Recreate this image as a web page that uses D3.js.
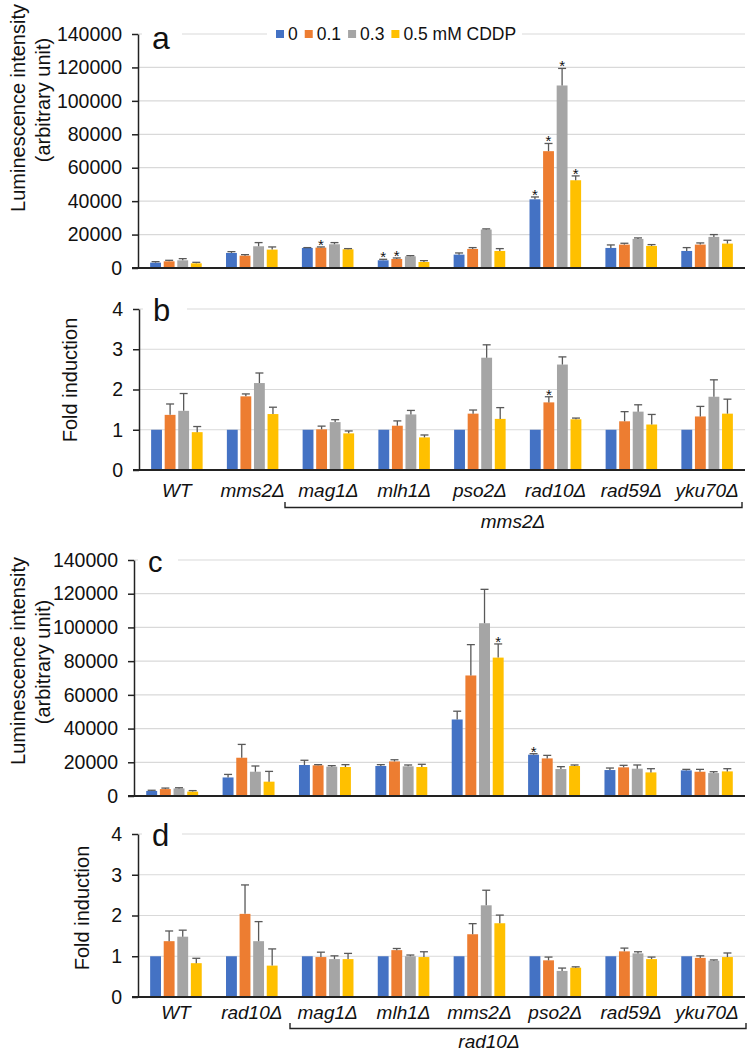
<!DOCTYPE html>
<html>
<head>
  <title>Luminescence and fold induction</title>
  <script src="https://d3js.org/d3.v7.min.js"></script>
  <style>
    body { margin: 0; background: #fff; }
    text { font-family: "Liberation Sans", Arial, sans-serif; }
  </style>
</head>
<body>
  <div id="chart"></div>

  <script>
    // categories
    var strainsTop = ["WT", "mms2\u0394", "mag1\u0394", "mlh1\u0394", "pso2\u0394", "rad10\u0394", "rad59\u0394", "yku70\u0394"];
    var strainsBottom = ["WT", "rad10\u0394", "mag1\u0394", "mlh1\u0394", "mms2\u0394", "pso2\u0394", "rad59\u0394", "yku70\u0394"];
    var doses = ["0", "0.1", "0.3", "0.5 mM CDDP"];
    var colors = ["#4472C4", "#ED7D31", "#A5A5A5", "#FFC000"];

    // panel a: luminescence, mms2 background
    var lumA = [
      [3200, 4000, 4600, 2800], [9000, 7400, 13000, 11000], [12000, 12200, 14200, 11200],
      [4600, 5400, 7000, 3600], [8000, 11400, 23000, 10200], [41100, 69900, 109200, 52500],
      [12000, 14000, 17400, 13200], [10200, 14000, 18600, 14600]
    ];
    var errA = [
      [600, 600, 1000, 600], [800, 600, 2200, 1600], [200, 400, 1000, 400],
      [600, 600, 400, 800], [1000, 800, 400, 1400], [1400, 4600, 10200, 2600],
      [1800, 800, 600, 800], [2000, 1000, 1400, 2000]
    ];
    var starA = [
      [0, 0, 0, 0], [0, 0, 0, 0], [0, 1, 0, 0], [1, 1, 0, 0],
      [0, 0, 0, 0], [1, 1, 1, 1], [0, 0, 0, 0], [0, 0, 0, 0]
    ];

    // panel b: fold induction, mms2 background
    var foldB = [
      [1, 1.37, 1.47, 0.94], [1, 1.83, 2.16, 1.39], [1, 1.01, 1.19, 0.91], [1, 1.10, 1.38, 0.81],
      [1, 1.40, 2.79, 1.27], [1, 1.68, 2.62, 1.26], [1, 1.21, 1.45, 1.13], [1, 1.33, 1.82, 1.40]
    ];
    var errB = [
      [0, 0.27, 0.43, 0.14], [0, 0.06, 0.25, 0.17], [0, 0.08, 0.06, 0.06], [0, 0.12, 0.10, 0.06],
      [0, 0.09, 0.32, 0.28], [0, 0.14, 0.19, 0.03], [0, 0.24, 0.17, 0.25], [0, 0.25, 0.42, 0.36]
    ];
    var starB = [
      [0, 0, 0, 0], [0, 0, 0, 0], [0, 0, 0, 0], [0, 0, 0, 0],
      [0, 0, 0, 0], [0, 1, 0, 0], [0, 0, 0, 0], [0, 0, 0, 0]
    ];

    // panel c: luminescence, rad10 background
    var lumC = [
      [3000, 4100, 4500, 2600], [11000, 22700, 14400, 8500], [18400, 18200, 17400, 17200],
      [17800, 20500, 17600, 17200], [45400, 71500, 102500, 82100], [24500, 22300, 16000, 17800],
      [15400, 17000, 16200, 14000], [15200, 14400, 13600, 14600]
    ];
    var errC = [
      [400, 600, 400, 600], [1800, 7900, 3400, 6100], [2800, 400, 600, 1400],
      [800, 1000, 800, 1600], [4900, 18300, 20100, 8100], [600, 1800, 1400, 600],
      [1200, 1200, 2200, 2200], [600, 1400, 800, 1600]
    ];
    var starC = [
      [0, 0, 0, 0], [0, 0, 0, 0], [0, 0, 0, 0], [0, 0, 0, 0],
      [0, 0, 0, 1], [1, 0, 0, 0], [0, 0, 0, 0], [0, 0, 0, 0]
    ];

    // panel d: fold induction, rad10 background
    var foldD = [
      [1, 1.37, 1.48, 0.83], [1, 2.04, 1.37, 0.77], [1, 0.98, 0.93, 0.93], [1, 1.15, 1.00, 0.98],
      [1, 1.54, 2.25, 1.81], [1, 0.90, 0.64, 0.72], [1, 1.12, 1.07, 0.93], [1, 0.96, 0.89, 0.98]
    ];
    var errD = [
      [0, 0.25, 0.16, 0.12], [0, 0.71, 0.48, 0.41], [0, 0.12, 0.08, 0.14], [0, 0.04, 0.03, 0.13],
      [0, 0.26, 0.37, 0.20], [0, 0.08, 0.07, 0.02], [0, 0.08, 0.04, 0.05], [0, 0.05, 0.02, 0.10]
    ];

    var lumTicks = [0, 20000, 40000, 60000, 80000, 100000, 120000, 140000];
    var foldTicks = [0, 1, 2, 3, 4];

    var svg = d3.select("#chart")
      .append("svg")
      .attr("width", 749)
      .attr("height", 1052);

    svg.append("rect").attr("width", 749).attr("height", 1052).attr("fill", "#fff");

    function drawPanel(p) {
      var g = svg.append("g");

      var y = d3.scaleLinear().domain([0, p.max]).range([p.bottom, p.top]);
      var x0 = d3.scaleBand().domain(d3.range(p.values.length))
        .range([p.left, 745]).paddingInner(0.32).paddingOuter(0.16);
      var x1 = d3.scaleBand().domain(d3.range(doses.length))
        .range([0, x0.bandwidth()]).paddingInner(0.2);

      // gridlines
      g.selectAll(".grid")
        .data(p.ticks.filter(function(t) { return t > 0; }))
        .enter().append("line")
        .attr("x1", p.left).attr("x2", 745)
        .attr("y1", function(d) { return y(d); })
        .attr("y2", function(d) { return y(d); })
        .attr("stroke", "#d9d9d9").attr("stroke-width", 1.2);

      // bars
      var groups = g.selectAll(".grp")
        .data(p.values)
        .enter().append("g")
        .attr("transform", function(d, i) { return "translate(" + x0(i) + ",0)"; });

      groups.each(function(vals, i) {
        var gg = d3.select(this);
        vals.forEach(function(v, j) {
          var bx = x1(j), bw = x1.bandwidth();
          gg.append("rect")
            .attr("x", bx).attr("y", y(v))
            .attr("width", bw).attr("height", y(0) - y(v))
            .attr("fill", colors[j]);
          var e = p.errors[i][j];
          var top = y(v + e);
          if (e > 0) {
            gg.append("line")
              .attr("x1", bx + bw / 2).attr("x2", bx + bw / 2)
              .attr("y1", y(v)).attr("y2", top)
              .attr("stroke", "#595959").attr("stroke-width", 1.3);
            gg.append("line")
              .attr("x1", bx + bw / 2 - 4).attr("x2", bx + bw / 2 + 4)
              .attr("y1", top).attr("y2", top)
              .attr("stroke", "#595959").attr("stroke-width", 1.3);
          }
          if (p.stars && p.stars[i][j]) {
            gg.append("text")
              .attr("x", bx + bw / 2).attr("y", top + 3)
              .attr("text-anchor", "middle")
              .attr("font-size", 15)
              .attr("fill", "#111")
              .text("*");
          }
        });
      });

      // y axis
      var axis = g.append("g")
        .attr("transform", "translate(" + p.left + ",0)")
        .call(d3.axisLeft(y).tickValues(p.ticks).tickFormat(d3.format("d"))
          .tickSize(6).tickPadding(10).tickSizeOuter(0));
      axis.select(".domain").attr("stroke", "#222").attr("stroke-width", 1.5);
      axis.selectAll(".tick line").attr("stroke", "#222").attr("stroke-width", 1.5);
      axis.selectAll(".tick text").attr("font-size", 19.5).attr("fill", "#111")
        .style("font-family", "'Liberation Sans', Arial, sans-serif");

      // x baseline
      g.append("line")
        .attr("x1", p.left - 6).attr("x2", 745)
        .attr("y1", y(0)).attr("y2", y(0))
        .attr("stroke", "#222").attr("stroke-width", 1.8);

      // panel letter on white patch
      g.append("rect")
        .attr("x", p.left + 4).attr("y", p.top - 18)
        .attr("width", p.letterPatch).attr("height", 32)
        .attr("fill", "#fff");
      g.append("text")
        .attr("x", p.left + 14).attr("y", p.top + p.letterDy)
        .attr("font-size", p.letterSize)
        .attr("fill", "#111")
        .text(p.letter);

      // y title
      p.titles.forEach(function(t) {
        g.append("text")
          .attr("transform", "translate(" + t.x + "," + t.y + ") rotate(-90)")
          .attr("text-anchor", "middle")
          .attr("font-size", 20)
          .attr("fill", "#111")
          .text(t.text);
      });

      // x labels
      if (p.labels) {
        g.selectAll(".xl")
          .data(p.labels)
          .enter().append("text")
          .attr("x", function(d, i) { return x0(i) + x0.bandwidth() / 2; })
          .attr("y", p.labelY)
          .attr("text-anchor", "middle")
          .attr("font-size", 19)
          .attr("font-style", "italic")
          .attr("fill", "#111")
          .text(function(d) { return d; });
      }
      return {x0: x0, y: y};
    }

    // panel a
    drawPanel({
      values: lumA, errors: errA, stars: starA, max: 140000, ticks: lumTicks,
      left: 138, top: 34, bottom: 268,
      letter: "a", letterSize: 32, letterDy: 15, letterPatch: 40,
      titles: [{x: 25, y: 108, text: "Luminescence intensity"}, {x: 50, y: 100, text: "(arbitrary unit)"}]
    });

    // legend on top of panel a
    var leg = svg.append("g");
    leg.append("rect").attr("x", 267).attr("y", 24).attr("width", 255).attr("height", 20).attr("fill", "#fff");
    var lx = 276;
    doses.forEach(function(d, i) {
      leg.append("rect").attr("x", lx).attr("y", 30).attr("width", 8).attr("height", 8)
        .attr("fill", colors[i]);
      var t = leg.append("text").attr("x", lx + 12).attr("y", 40)
        .attr("font-size", 17.5).attr("fill", "#111").text(d);
      lx = lx + 12 + t.node().getComputedTextLength() + 7;
    });

    // panel b
    drawPanel({
      values: foldB, errors: errB, stars: starB, max: 4, ticks: foldTicks,
      left: 139, top: 309, bottom: 470,
      letter: "b", letterSize: 31, letterDy: 12, letterPatch: 44,
      titles: [{x: 77, y: 380, text: "Fold induction"}],
      labels: strainsTop, labelY: 497
    });

    // bracket under b
    svg.append("path")
      .attr("d", "M285,502V507.5H742V502")
      .attr("fill", "none").attr("stroke", "#222").attr("stroke-width", 1.4);
    svg.append("text")
      .attr("x", 513).attr("y", 528).attr("text-anchor", "middle")
      .attr("font-size", 19).attr("font-style", "italic").attr("fill", "#111")
      .text("mms2\u0394");

    // panel c
    drawPanel({
      values: lumC, errors: errC, stars: starC, max: 140000, ticks: lumTicks,
      left: 134, top: 560, bottom: 796,
      letter: "c", letterSize: 29, letterDy: 12, letterPatch: 40,
      titles: [{x: 25, y: 661, text: "Luminescence intensity"}, {x: 50, y: 662, text: "(arbitrary unit)"}]
    });

    // panel d
    drawPanel({
      values: foldD, errors: errD, max: 4, ticks: foldTicks,
      left: 138, top: 834, bottom: 997,
      letter: "d", letterSize: 31, letterDy: 12, letterPatch: 40,
      titles: [{x: 89, y: 908, text: "Fold induction"}],
      labels: strainsBottom, labelY: 1019
    });

    // bracket under d
    svg.append("path")
      .attr("d", "M290,1023V1028.5H746V1023")
      .attr("fill", "none").attr("stroke", "#222").attr("stroke-width", 1.4);
    svg.append("text")
      .attr("x", 489).attr("y", 1048).attr("text-anchor", "middle")
      .attr("font-size", 19).attr("font-style", "italic").attr("fill", "#111")
      .text("rad10\u0394");
  </script>
</body>
</html>
